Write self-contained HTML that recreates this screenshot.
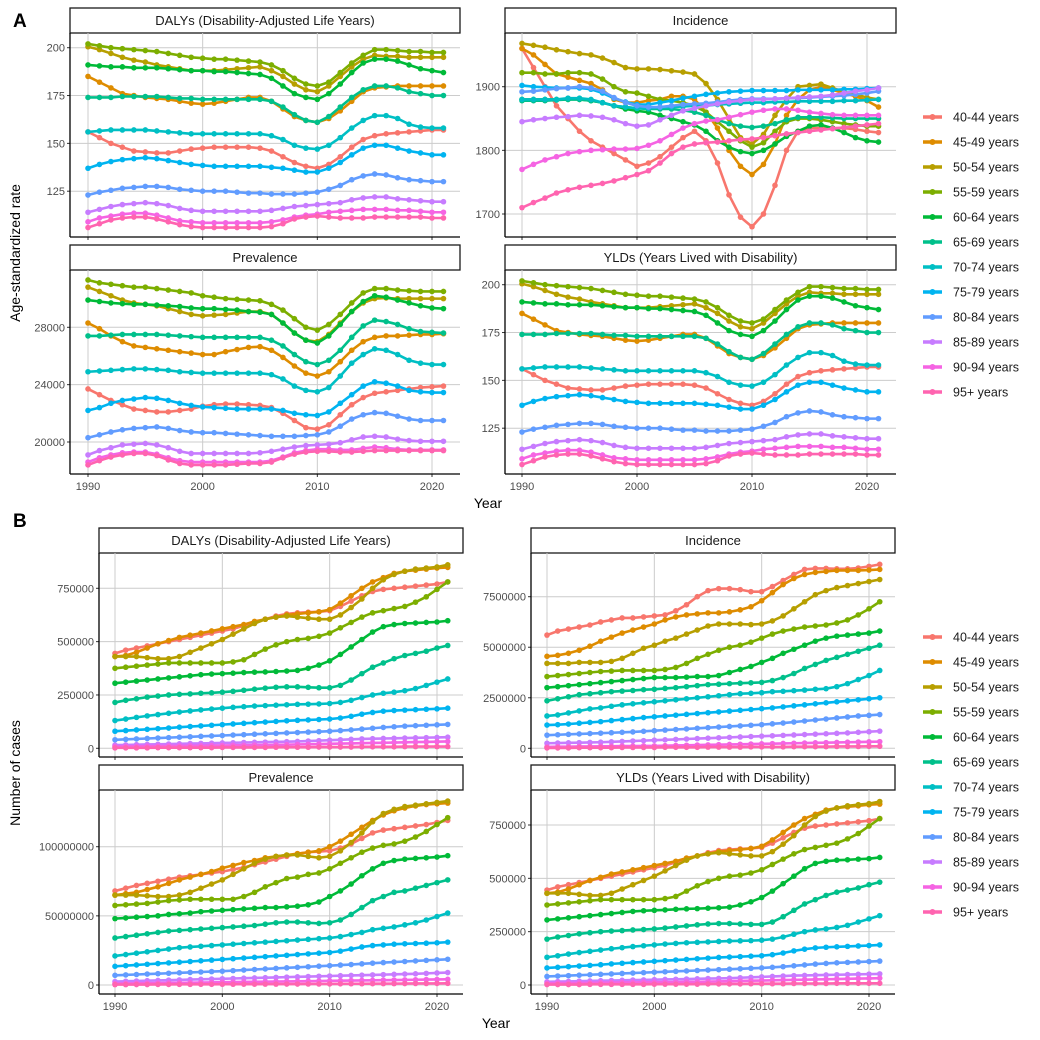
<!DOCTYPE html>
<html><head><meta charset="utf-8">
<style>
html,body{margin:0;padding:0;background:#fff;}
svg{display:block;font-family:"Liberation Sans",Arial,sans-serif;}
</style></head>
<body>
<svg id="chart" width="1040" height="1040" viewBox="0 0 1040 1040" xmlns="http://www.w3.org/2000/svg"></svg>
<script>
const years = [];
for (let y = 1990; y <= 2021; y++) years.push(y);
const groups = ["40-44 years","45-49 years","50-54 years","55-59 years","60-64 years","65-69 years","70-74 years","75-79 years","80-84 years","85-89 years","90-94 years","95+ years"];
const colors = ["#F8766D","#DE8C00","#B79F00","#7CAE00","#00BA38","#00C08B","#00BFC4","#00B4F0","#619CFF","#C77CFF","#F564E3","#FF64B0"];

// A: age-standardized rates
const rateDALY = [
[156,153,150,148,146,145.5,145,145,146,147,147.5,148,148,148,148,147.5,146,143,140,138,137,139,143,148,152,154,155,155.5,156,156.5,157,157],
[185,182,179,176,175,174,173.5,173,172,171,170.5,171,172,173,174,174,172,168,164,162,161,163,167,172,177,179,179.5,180,180,180,180,180],
[200.5,199,197,195,193.5,192.5,191,190,189,188,188,188,188.5,189,189.5,190,188,185,181,178,177,180,185,190,194,196,195.5,195.5,195,195,195,195],
[202,201,200,199.5,199,198.5,198,197,196,195,194.5,194,194,193.5,193,192.5,191,188,184,181,180,182,187,192,196,199,199,198.5,198,198,197.5,197.5],
[191,190.5,190,190,189.5,189.5,189.5,189,188.5,188,188,187.5,187.5,187,186.5,186,184,180,176,174,173,176,181,187,192,194,194,193,191,189,188,187],
[174,174,174,174.5,174.5,174.5,174.5,174,173.5,173.5,173,173,173,173,173,173,172,169,165,162,161,164,169,174,178,180,180,179,177,176,175,175],
[156,156.5,157,157,157,157,156.5,156,155.5,155,155,155,155,155,155,155,154,152,149,147.5,147,149,153,158,162,164.5,164.5,163,160,158.5,158,158],
[137,139,140.5,141.5,142,142.5,142,141,140,139,138.5,138,138,138,138,138,137.5,137,136,135,135,137,140,144,147.5,149,149,147.5,146,145,144,144],
[123,124.5,125.5,126.5,127,127.5,127.5,127,126,125.5,125,125,125,124.5,124,124,123.5,123.5,123.5,124,124.5,126,128,131,133,134,133.5,132,131,130.5,130,130],
[114,115.5,117,118,118.5,119,118.5,117.5,116,115,114.5,114.5,114.5,114.5,114.5,114.5,115,116,117,117.5,118,118.5,119,120.5,121.5,122,122,121,120.5,120,119.5,119.5],
[109,111,112,113,113.5,113.5,112.5,111,109.5,109,108.5,108.5,108.5,108.5,108.5,108.5,109,110,111.5,112.5,113,114,114.5,115,115.5,115.5,115.5,115,115,114.5,114,114],
[106,108,110,111,111.5,111.5,110.5,109,107.5,106.5,106,106,106,106,106,106,106.5,108,110.5,111.5,112,111.5,111,111,111,111.5,111.5,111.5,111.5,111.5,111,111]
];
const rateYLD = rateDALY;
const rateInc = [
[1960,1930,1900,1870,1850,1830,1815,1805,1795,1785,1775,1780,1790,1805,1820,1830,1815,1780,1730,1695,1680,1700,1745,1800,1830,1835,1835,1835,1835,1833,1830,1828],
[1960,1950,1935,1920,1915,1910,1905,1895,1880,1875,1875,1878,1880,1885,1885,1880,1860,1835,1800,1775,1762,1778,1810,1855,1880,1895,1900,1895,1890,1885,1878,1868],
[1968,1965,1962,1958,1955,1952,1950,1945,1938,1930,1928,1928,1927,1925,1923,1920,1905,1880,1850,1820,1810,1825,1855,1880,1900,1902,1904,1898,1892,1888,1883,1880],
[1922,1922,1920,1920,1922,1922,1920,1912,1900,1892,1890,1885,1880,1878,1875,1870,1860,1845,1830,1815,1805,1812,1830,1845,1850,1850,1848,1845,1842,1840,1838,1838],
[1880,1880,1880,1880,1880,1880,1878,1875,1870,1865,1862,1860,1855,1850,1845,1840,1830,1815,1805,1798,1795,1800,1810,1822,1830,1838,1840,1835,1828,1820,1815,1813],
[1878,1878,1878,1879,1880,1880,1878,1875,1870,1868,1866,1865,1865,1865,1863,1860,1855,1848,1842,1838,1836,1838,1842,1848,1852,1852,1852,1851,1850,1850,1850,1850],
[1880,1880,1880,1880,1882,1882,1880,1875,1870,1868,1866,1866,1867,1868,1869,1870,1870,1872,1873,1874,1875,1875,1876,1876,1877,1877,1877,1877,1878,1878,1879,1880],
[1902,1900,1899,1898,1898,1898,1896,1890,1882,1876,1872,1872,1875,1878,1882,1885,1888,1890,1892,1893,1894,1894,1894,1894,1895,1895,1895,1895,1896,1896,1897,1898],
[1892,1893,1895,1897,1898,1900,1898,1893,1883,1875,1870,1868,1868,1870,1872,1873,1874,1876,1878,1880,1881,1881,1881,1882,1882,1883,1884,1885,1886,1888,1890,1893],
[1845,1848,1850,1852,1853,1855,1854,1852,1848,1842,1838,1840,1848,1855,1862,1866,1870,1873,1876,1878,1880,1880,1881,1882,1883,1884,1885,1887,1890,1893,1895,1898],
[1770,1778,1785,1790,1795,1798,1800,1801,1802,1802,1803,1808,1815,1825,1835,1842,1846,1848,1852,1856,1860,1863,1865,1865,1863,1860,1858,1856,1855,1855,1855,1855],
[1710,1718,1725,1733,1738,1742,1745,1748,1752,1757,1762,1768,1780,1795,1805,1810,1812,1813,1815,1817,1818,1820,1823,1826,1828,1830,1832,1834,1836,1838,1840,1842]
];
const ratePrev = [
[23700,23300,22900,22600,22300,22200,22100,22100,22200,22300,22500,22600,22650,22650,22600,22550,22400,22000,21500,21000,20900,21200,21900,22600,23100,23400,23500,23600,23700,23800,23850,23900],
[28300,27900,27400,27000,26700,26600,26500,26400,26300,26200,26100,26100,26300,26450,26600,26650,26400,25900,25300,24800,24600,24900,25600,26400,27000,27300,27400,27400,27450,27500,27500,27550],
[30800,30500,30200,29900,29700,29600,29500,29300,29100,28900,28800,28850,28900,29000,29100,29100,28900,28300,27600,27100,27000,27500,28300,29100,29700,30000,30050,30000,30000,30000,30000,30000],
[31300,31100,31000,30900,30800,30800,30700,30600,30500,30400,30200,30100,30000,29950,29900,29850,29600,29200,28600,28000,27800,28200,28900,29700,30400,30700,30700,30600,30550,30500,30500,30500],
[29900,29800,29700,29650,29600,29600,29550,29500,29450,29350,29300,29300,29250,29200,29100,29050,28900,28300,27600,27100,26900,27400,28200,29100,29800,30200,30100,29900,29700,29500,29350,29300],
[27400,27400,27450,27500,27500,27500,27500,27450,27400,27350,27300,27300,27300,27300,27300,27300,27100,26700,26100,25600,25400,25700,26400,27300,28100,28500,28400,28200,27900,27700,27650,27600],
[24900,24950,25000,25050,25100,25100,25050,25000,24900,24850,24800,24800,24800,24800,24800,24800,24700,24400,23900,23600,23500,23800,24600,25500,26100,26500,26400,26100,25700,25500,25400,25400],
[22200,22400,22700,22900,23000,23100,23050,22900,22700,22550,22450,22400,22350,22300,22300,22300,22300,22200,22000,21900,21850,22100,22700,23300,23900,24200,24100,23900,23600,23500,23450,23450],
[20300,20500,20700,20850,20950,21000,21050,20950,20800,20700,20650,20650,20600,20550,20500,20450,20400,20400,20400,20450,20500,20700,21100,21600,21900,22050,22000,21800,21600,21500,21500,21500],
[19100,19400,19600,19800,19850,19900,19800,19600,19350,19200,19200,19200,19200,19200,19200,19250,19350,19500,19650,19750,19800,19850,19950,20150,20350,20400,20350,20200,20100,20050,20050,20050],
[18600,18900,19100,19250,19300,19300,19150,18900,18700,18600,18600,18600,18600,18600,18600,18600,18700,18950,19250,19400,19500,19500,19450,19450,19550,19650,19600,19500,19450,19450,19450,19450],
[18400,18700,18950,19100,19200,19200,19050,18750,18500,18400,18400,18400,18400,18450,18500,18500,18600,18900,19150,19300,19350,19350,19300,19300,19350,19400,19400,19400,19400,19400,19400,19400]
];

// B: number of cases
const caseDALYk = [
[445,460,470,480,490,500,510,520,530,540,550,560,575,590,605,620,630,635,638,640,645,665,690,715,735,745,750,755,760,765,770,780],
[430,435,450,470,490,505,520,530,540,550,560,570,580,595,605,615,625,630,635,640,650,680,715,750,780,800,820,830,835,840,845,848],
[430,430,430,425,420,420,430,450,470,490,510,535,560,585,605,615,620,615,610,605,605,625,660,700,750,790,815,830,840,845,850,860],
[375,380,385,390,395,400,400,400,400,400,400,405,415,440,465,485,500,510,515,525,540,565,590,615,635,645,655,665,685,710,745,780],
[305,310,315,320,325,330,335,340,345,348,350,352,355,357,358,360,362,365,375,390,410,440,475,510,545,570,580,585,587,590,592,598],
[215,225,232,240,245,250,253,255,258,260,263,267,272,277,282,286,288,288,286,284,284,295,320,350,380,400,420,435,445,455,470,482],
[130,137,145,152,158,164,170,175,180,184,188,192,195,198,200,202,204,206,207,208,210,215,225,238,250,258,263,270,280,295,310,325],
[80,83,86,89,92,95,99,102,105,108,111,114,117,120,123,126,129,131,133,135,137,142,150,160,168,174,177,179,181,183,185,188],
[40,42,44,46,48,50,52,54,56,58,60,62,64,66,68,70,72,74,76,78,80,83,86,90,94,98,101,104,106,108,110,112],
[15,16,17,18,19,20,21,22,23,24,25,26,27,28,29,30,31,32,34,36,38,40,42,44,45,46,47,48,49,50,51,52],
[8,9,9,10,10,11,11,12,12,13,13,14,14,15,15,16,17,18,19,20,21,22,23,24,25,26,27,28,29,30,31,32],
[2,2,2,2,3,3,3,3,3,3,4,4,4,4,4,5,5,5,5,6,6,6,6,7,7,7,7,8,8,8,8,8]
];
const caseYLDk = caseDALYk;
const caseIncM = [
[5.6,5.8,5.9,6.0,6.1,6.25,6.35,6.45,6.45,6.5,6.55,6.6,6.8,7.1,7.5,7.8,7.9,7.9,7.85,7.75,7.75,8.0,8.3,8.6,8.85,8.9,8.9,8.88,8.88,8.92,9.0,9.1],
[4.55,4.6,4.7,4.85,5.05,5.3,5.5,5.7,5.85,6.0,6.15,6.35,6.5,6.6,6.65,6.7,6.7,6.75,6.85,7.0,7.3,7.7,8.1,8.4,8.6,8.7,8.75,8.8,8.8,8.8,8.82,8.85],
[4.2,4.2,4.2,4.25,4.25,4.25,4.3,4.45,4.7,4.95,5.1,5.3,5.45,5.65,5.85,6.05,6.15,6.15,6.15,6.12,6.15,6.3,6.55,6.9,7.25,7.6,7.8,7.95,8.05,8.15,8.25,8.35],
[3.55,3.6,3.65,3.7,3.75,3.8,3.82,3.85,3.85,3.85,3.85,3.9,4.0,4.2,4.45,4.65,4.85,5.0,5.1,5.25,5.45,5.65,5.8,5.9,6.0,6.05,6.1,6.2,6.35,6.6,6.9,7.25],
[3.0,3.05,3.1,3.15,3.2,3.25,3.3,3.35,3.4,3.45,3.5,3.5,3.5,3.52,3.55,3.55,3.6,3.75,3.9,4.05,4.25,4.45,4.7,4.9,5.1,5.3,5.45,5.55,5.6,5.65,5.7,5.8],
[2.35,2.45,2.55,2.65,2.7,2.75,2.8,2.83,2.86,2.9,2.92,2.96,3.0,3.05,3.1,3.15,3.17,3.2,3.22,3.24,3.26,3.35,3.5,3.7,3.95,4.15,4.35,4.5,4.65,4.8,4.95,5.1],
[1.6,1.65,1.75,1.85,1.95,2.0,2.08,2.15,2.2,2.25,2.3,2.35,2.4,2.45,2.5,2.55,2.6,2.65,2.7,2.72,2.75,2.8,2.82,2.85,2.88,2.92,2.95,3.05,3.2,3.4,3.6,3.85],
[1.15,1.17,1.2,1.24,1.28,1.32,1.37,1.42,1.47,1.52,1.56,1.6,1.64,1.68,1.72,1.76,1.8,1.84,1.88,1.92,1.96,2.0,2.05,2.1,2.15,2.2,2.25,2.3,2.35,2.4,2.45,2.5],
[0.65,0.67,0.69,0.71,0.73,0.75,0.77,0.79,0.81,0.84,0.87,0.9,0.93,0.96,0.99,1.02,1.05,1.08,1.11,1.14,1.17,1.21,1.25,1.3,1.35,1.4,1.45,1.5,1.55,1.6,1.63,1.67],
[0.25,0.26,0.27,0.28,0.29,0.3,0.32,0.34,0.36,0.38,0.4,0.42,0.44,0.46,0.48,0.5,0.52,0.54,0.56,0.58,0.6,0.62,0.64,0.66,0.68,0.7,0.72,0.74,0.76,0.79,0.82,0.85],
[0.07,0.08,0.08,0.09,0.09,0.1,0.1,0.11,0.11,0.12,0.12,0.13,0.14,0.15,0.16,0.17,0.18,0.19,0.2,0.21,0.22,0.23,0.24,0.25,0.26,0.27,0.28,0.29,0.3,0.31,0.32,0.33],
[0.02,0.02,0.02,0.03,0.03,0.03,0.03,0.04,0.04,0.04,0.04,0.05,0.05,0.05,0.05,0.06,0.06,0.06,0.06,0.07,0.07,0.07,0.07,0.08,0.08,0.08,0.08,0.09,0.09,0.09,0.1,0.1]
];
const casePrevM = [
[68,70,72,73.5,75,76.5,78,79,80,81,82,83.5,85,87,89,91,93,95,96,96.5,97,99,102,106,110,112,113,114,115,116,117.5,119],
[65,66,67,69,71,73.5,76,78,80,82,84.5,86.5,88.5,90,92,93,94,95,96,97,100,104,109,114,119,123,126,128,129.5,130.5,131,131.5],
[65,65,65,64.5,64,64,65,67,70,73,76,80,84,88,91,93,94,94,93,92,93,97,103,110,118,124,127,129,130,131,132,133],
[57.5,58,58.5,59,60,61,61.5,62,62,62,62,62,64,67,71,74,77,78,80,81,84,88,92,96,99,101,102,104,107,111,116,121],
[48,48.5,49,49.5,50,51,51.5,52,53,53.5,54,54.5,55,55.5,56,56,56.5,57,58,60,64,68,73,79,84,88,90,91,91.5,92,92.5,93.5],
[34,35,36,37,38,39,39.5,40,40.5,41,41.5,42,42.5,43,44,45,45.5,45.5,45,44.5,45,47,51,56,61,64,67,68,70,72,74,76],
[21,22,23,24,25,26,27,27.5,28,28.5,29,29.5,30,30.5,31,31.5,32,32.5,33,33.5,34,35,36.5,38,40,41,42,43.5,45,47,49.5,52],
[13.5,14,14.5,15,15.5,16,16.5,17,17.5,18,18.5,19,19.5,20,20.5,21,21.5,22,22.5,23,23.5,24.5,26,27.5,28.5,29,29.5,29.8,30,30.2,30.5,31],
[7,7.3,7.6,7.9,8.2,8.5,8.8,9.1,9.4,9.7,10,10.4,10.8,11.2,11.6,12,12.4,12.8,13.2,13.6,14,14.4,14.8,15.3,15.8,16.2,16.6,17,17.4,17.8,18.2,18.6],
[2.5,2.7,2.9,3.1,3.3,3.5,3.7,3.9,4.1,4.3,4.5,4.7,4.9,5.1,5.3,5.5,5.7,5.9,6.1,6.3,6.5,6.7,6.9,7.1,7.3,7.5,7.7,7.9,8.1,8.4,8.7,9],
[1,1.1,1.2,1.3,1.4,1.5,1.6,1.7,1.8,1.9,2,2.1,2.2,2.3,2.4,2.5,2.6,2.7,2.8,2.9,3,3.1,3.2,3.3,3.4,3.5,3.6,3.7,3.8,3.9,4,4.1],
[0.3,0.3,0.35,0.35,0.4,0.4,0.45,0.45,0.5,0.5,0.55,0.55,0.6,0.6,0.65,0.65,0.7,0.7,0.75,0.75,0.8,0.85,0.9,0.9,0.95,1,1,1.05,1.1,1.1,1.15,1.2]
];
const xTicks = [1990,2000,2010,2020];
const ticksRateDALY = [125,150,175,200];
const ticksRateInc = [1700,1800,1900];
const ticksRatePrev = [20000,24000,28000];
const ticksCaseDALY = [0,250000,500000,750000];
const ticksCaseInc = [0,2500000,5000000,7500000];
const ticksCasePrev = [0,50000000,100000000];

const NS = "http://www.w3.org/2000/svg";
const svg = document.getElementById("chart");
function mk(tag, attrs, parent) {
  const e = document.createElementNS(NS, tag);
  for (const k in attrs) e.setAttribute(k, attrs[k]);
  (parent || svg).appendChild(e);
  return e;
}
function txt(s, attrs, parent) { const t = mk("text", attrs, parent); t.textContent = s; return t; }
function linScale(v0, p0, v1, p1) { return v => p0 + (v - v0) * (p1 - p0) / (v1 - v0); }

function panel(cfg) {
  const g = mk("g", {});
  
  
  const {x0, x1, y0, y1} = cfg;
  const X = linScale(1990, cfg.x1990, 2020, cfg.x2020);
  const Y = cfg.Y;
  const strip = mk("rect", {x: x0, y: y0 - 25, width: x1 - x0, height: 25, fill: "#fff", stroke: "#1a1a1a", "stroke-width": 1.3}, g);
  
  
  const st = txt(cfg.title, {x: (x0 + x1) / 2, y: y0 - 8, "text-anchor": "middle", "font-size": 13, fill: "#1a1a1a"}, g);
  
  
  const grid = mk("g", {stroke: "#cccccc", "stroke-width": 1}, g);
  
  
  xTicks.forEach(t => mk("line", {x1: X(t), x2: X(t), y1: y0, y2: y1}, grid));
  cfg.ticks.forEach(t => mk("line", {x1: x0, x2: x1, y1: Y(t), y2: Y(t)}, grid));
  cfg.ticks.forEach(t => {
    mk("line", {x1: x0 - 3, x2: x0, y1: Y(t), y2: Y(t), stroke: "#333", "stroke-width": 1}, g);
    const l = txt(String(t), {x: x0 - 5, y: Y(t) + 4, "text-anchor": "end", "font-size": 11, fill: "#4d4d4d"}, g);
    
    
  });
  xTicks.forEach(t => {
    mk("line", {x1: X(t), x2: X(t), y1: y1, y2: y1 + 3, stroke: "#333", "stroke-width": 1}, g);
    if (cfg.xlabels) {
      const l = txt(String(t), {x: X(t), y: y1 + 16, "text-anchor": "middle", "font-size": 11, fill: "#4d4d4d"}, g);
      
      
    }
  });
  for (let s = 0; s < cfg.data.length; s++) {
    const sg = mk("g", {}, g);
    
    
    const vals = cfg.data[s];
    const pts = vals.map((v, i) => X(years[i]).toFixed(2) + "," + Y(v * cfg.mult).toFixed(2)).join(" ");
    mk("polyline", {points: pts, fill: "none", stroke: colors[s], "stroke-width": 2.6, "stroke-linejoin": "round"}, sg);
    vals.forEach((v, i) => {
      const c = mk("circle", {cx: X(years[i]), cy: Y(v * cfg.mult), r: 2.8, fill: colors[s]}, sg);
      
      
    });
  }
  mk("line", {x1: x0, x2: x0, y1: y0, y2: y1, stroke: "#000", "stroke-width": 1.3}, g);
  mk("line", {x1: x0, x2: x1, y1: y1, y2: y1, stroke: "#000", "stroke-width": 1.3}, g);
}

panel({name: "panel-a-dalys", title: "DALYs (Disability-Adjusted Life Years)", x0: 70, x1: 460, y0: 33, y1: 237, x1990: 88, x2020: 432,
  Y: linScale(200, 47.7, 125, 191.2), ticks: ticksRateDALY, data: rateDALY, mult: 1, xlabels: false});
panel({name: "panel-a-incidence", title: "Incidence", x0: 505, x1: 896, y0: 33, y1: 237, x1990: 522, x2020: 867,
  Y: linScale(1900, 86.7, 1700, 214), ticks: ticksRateInc, data: rateInc, mult: 1, xlabels: false});
panel({name: "panel-a-prevalence", title: "Prevalence", x0: 70, x1: 460, y0: 270, y1: 474, x1990: 88, x2020: 432,
  Y: linScale(28000, 327.3, 20000, 442), ticks: ticksRatePrev, data: ratePrev, mult: 1, xlabels: true});
panel({name: "panel-a-ylds", title: "YLDs (Years Lived with Disability)", x0: 505, x1: 896, y0: 270, y1: 474, x1990: 522, x2020: 867,
  Y: linScale(200, 284.7, 125, 428.2), ticks: ticksRateDALY, data: rateYLD, mult: 1, xlabels: true});
panel({name: "panel-b-dalys", title: "DALYs (Disability-Adjusted Life Years)", x0: 99, x1: 463, y0: 553, y1: 757, x1990: 115, x2020: 437,
  Y: linScale(0, 748.3, 750000, 588.3), ticks: ticksCaseDALY, data: caseDALYk, mult: 1000, xlabels: false});
panel({name: "panel-b-incidence", title: "Incidence", x0: 531, x1: 895, y0: 553, y1: 757, x1990: 547, x2020: 869,
  Y: linScale(0, 748.3, 7500000, 596.7), ticks: ticksCaseInc, data: caseIncM, mult: 1e6, xlabels: false});
panel({name: "panel-b-prevalence", title: "Prevalence", x0: 99, x1: 463, y0: 790, y1: 994, x1990: 115, x2020: 437,
  Y: linScale(0, 985, 100000000, 846.7), ticks: ticksCasePrev, data: casePrevM, mult: 1e6, xlabels: true});
panel({name: "panel-b-ylds", title: "YLDs (Years Lived with Disability)", x0: 531, x1: 895, y0: 790, y1: 994, x1990: 547, x2020: 869,
  Y: linScale(0, 985, 750000, 825), ticks: ticksCaseDALY, data: caseYLDk, mult: 1000, xlabels: true});

function label(s, attrs, name) {
  const t = txt(s, attrs);
  
  
}
label("A", {x: 13, y: 27, "font-size": 19, "font-weight": "bold", fill: "#000"}, "section-a-label");
label("B", {x: 13, y: 527, "font-size": 19, "font-weight": "bold", fill: "#000"}, "section-b-label");
label("Year", {x: 488, y: 508, "text-anchor": "middle", "font-size": 14, fill: "#000"}, "x-axis-title-a");
label("Year", {x: 496, y: 1028, "text-anchor": "middle", "font-size": 14, fill: "#000"}, "x-axis-title-b");
label("Age-standardized rate", {x: 0, y: 0, "text-anchor": "middle", "font-size": 14, fill: "#000", transform: "translate(20,253) rotate(-90)"}, "y-axis-title-a");
label("Number of cases", {x: 0, y: 0, "text-anchor": "middle", "font-size": 14, fill: "#000", transform: "translate(20,773) rotate(-90)"}, "y-axis-title-b");

function legend(top, name) {
  const g = mk("g", {});
  
  
  groups.forEach((gname, i) => {
    const y = top + i * 25;
    const e = mk("g", {}, g);
    
    
    mk("line", {x1: 923, x2: 942, y1: y, y2: y, stroke: colors[i], "stroke-width": 3.5}, e);
    mk("circle", {cx: 932.5, cy: y, r: 3, fill: colors[i]}, e);
    txt(gname, {x: 953, y: y + 4.5, "font-size": 12.5, fill: "#1a1a1a"}, e);
  });
}
legend(117, "legend-a");
legend(637, "legend-b");
</script>
</body></html>
